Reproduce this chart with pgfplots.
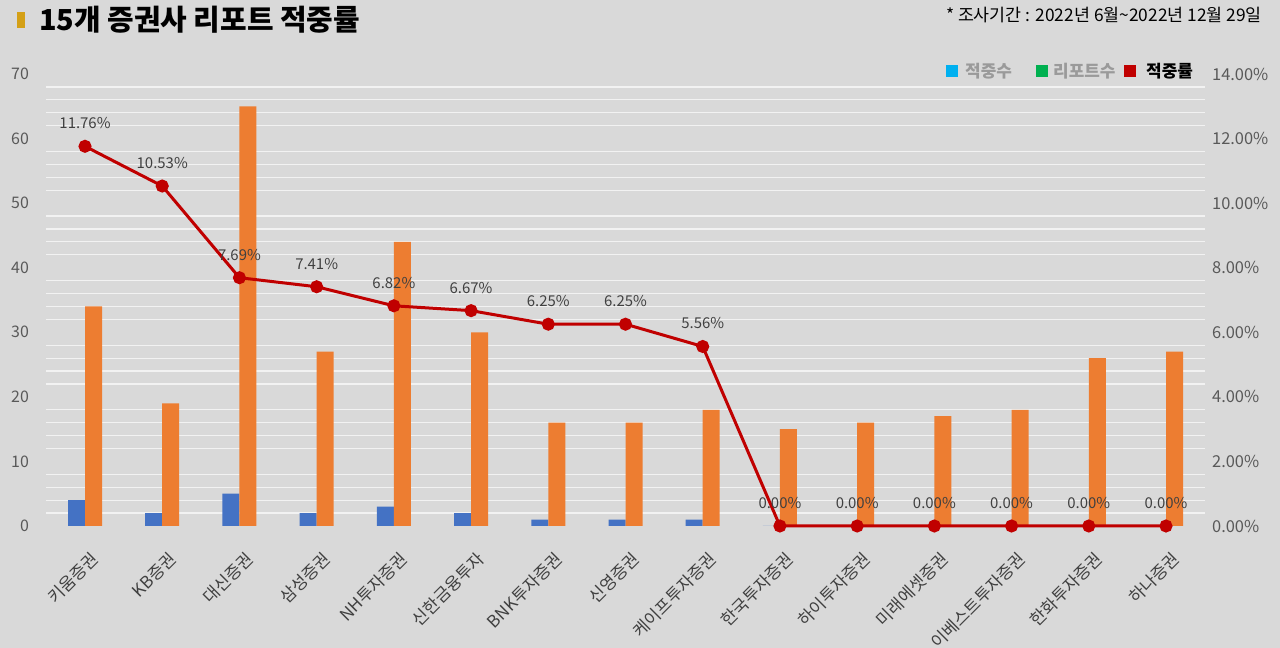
\documentclass[border=0pt]{standalone}
\usepackage{pgfplots}
\pgfplotsset{compat=1.18}
\usepackage{fontspec}
\setmainfont{Noto Sans CJK KR}
\definecolor{bg}{HTML}{D9D9D9}
\definecolor{gridc}{HTML}{F2F2F2}
\definecolor{tickc}{HTML}{595959}
\definecolor{labc}{HTML}{404040}
\definecolor{barblue}{HTML}{4472C4}
\definecolor{barorange}{HTML}{ED7D31}
\definecolor{linered}{HTML}{C00000}
\definecolor{gold}{HTML}{D4A017}
\definecolor{legcyan}{HTML}{00B0F0}
\definecolor{leggreen}{HTML}{00B050}
\definecolor{leggray}{HTML}{9A9A9A}
\pgfplotsset{/pgf/number format/assume math mode=true}
\pgfplotstableread{
x hit reports rate
0 4 34 11.76
1 2 19 10.53
2 5 65 7.69
3 2 27 7.41
4 3 44 6.82
5 2 30 6.67
6 1 16 6.25
7 1 16 6.25
8 1 18 5.56
9 0 15 0
10 0 16 0
11 0 17 0
12 0 18 0
13 0 26 0
14 0 27 0
}\datatable
\begin{document}
\begin{tikzpicture}[x=1bp,y=1bp]
\fill[bg] (0,0) rectangle (1280,648);
% title
\fill[gold] (17,620) rectangle (25,636);
\node[anchor=west, font=\fontsize{29}{33}\bfseries\selectfont, text=black, inner sep=0pt] at (39,628) {15개 증권사 리포트 적중률};
\node[anchor=east, font=\fontsize{17.4}{20}\selectfont, text=black, inner sep=0pt] at (1262,633) {* 조사기간 : 2022년 6월\char"007E 2022년 12월 29일};
% legend
\fill[legcyan] (946,571) rectangle (958,583);
\node[anchor=west, font=\fontsize{17}{20}\bfseries\selectfont, text=leggray, inner sep=0pt] at (965,577) {적중수};
\fill[leggreen] (1036,571) rectangle (1048,583);
\node[anchor=west, font=\fontsize{17}{20}\bfseries\selectfont, text=leggray, inner sep=0pt] at (1053,577) {리포트수};
\fill[linered] (1124,571) rectangle (1136,583);
\node[anchor=west, font=\fontsize{17}{20}\bfseries\selectfont, text=black, inner sep=0pt] at (1146,577) {적중률};
\begin{axis}[
  at={(46.4bp,122bp)}, anchor=south west, scale only axis,
  width=1158.2bp, height=452bp,
  xmin=-0.5, xmax=14.5, ymin=0, ymax=70,
  ytick={0,10,...,70}, minor y tick num=4,
  yminorgrids=true, ymajorgrids=false,
  minor grid style={draw=gridc, line width=1.2bp},
  axis line style={draw=none},
  major tick length=0pt, minor tick length=0pt,
  xtick={0,...,14},
  xticklabels={키움증권,KB증권,대신증권,삼성증권,NH투자증권,신한금융투자,BNK투자증권,신영증권,케이프투자증권,한국투자증권,하이투자증권,미래에셋증권,이베스트투자증권,한화투자증권,하나증권},
  xticklabel style={rotate=45, anchor=north east, font=\fontsize{17}{20}\selectfont, text=labc, inner sep=2pt, yshift=-19bp, xshift=-12bp},
  yticklabel style={font=\fontsize{16}{19}\selectfont, text=tickc, anchor=east, xshift=-14bp},
  ybar=0pt, bar width=17bp,
  clip=false,
]
\addplot[fill=barblue, draw=none] table[x=x, y=hit] {\datatable};
\addplot[fill=barorange, draw=none] table[x=x, y=reports] {\datatable};
\end{axis}
\begin{axis}[
  at={(46.4bp,122bp)}, anchor=south west, scale only axis,
  width=1158.2bp, height=452bp,
  xmin=-0.5, xmax=14.5, ymin=0, ymax=14,
  ytick={0,2,...,14},
  axis x line=none, axis y line*=right,
  axis line style={draw=none},
  major tick length=0pt,
  yticklabel={\pgfmathprintnumber[fixed,zerofill,precision=2]{\tick}\%},
  yticklabel style={font=\fontsize{16.5}{19}\selectfont, text=tickc, anchor=west, xshift=4bp},
  clip=false,
]
\addplot[linered, line width=3bp, mark=*, mark size=5bp, mark options={fill=linered, draw=linered},
  point meta=y,
  nodes near coords={\pgfmathprintnumber[fixed,zerofill,precision=2]{\pgfplotspointmeta}\%},
  nodes near coords style={anchor=center, yshift=23bp, font=\fontsize{15}{18}\selectfont, text=labc}]
  table[x=x, y=rate] {\datatable};
\end{axis}
\pgfresetboundingbox
\useasboundingbox (0,0) rectangle (1280,648);
\end{tikzpicture}
\end{document}
